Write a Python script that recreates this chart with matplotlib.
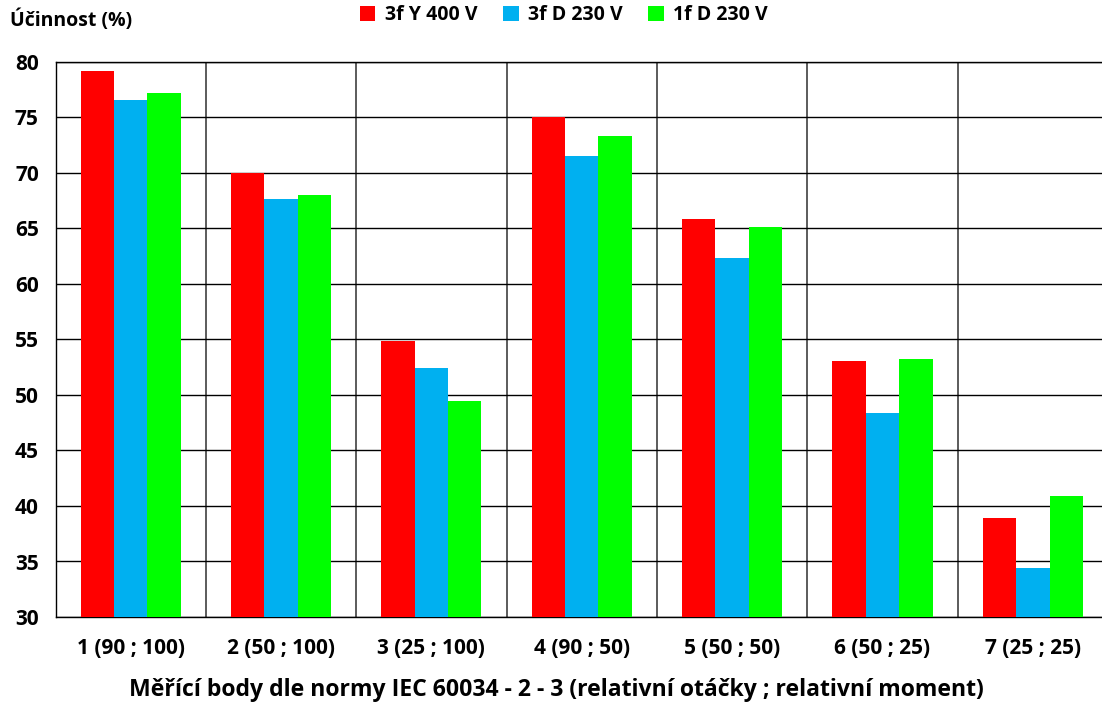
import numpy as np
import matplotlib.pyplot as plt

plt.rcParams['font.family'] = ['Open Sans', 'DejaVu Sans']
plt.rcParams['font.weight'] = 'bold'

# Měřicí body a účinnosti
categories = ['1 (90 ; 100)', '2 (50 ; 100)', '3 (25 ; 100)', '4 (90 ; 50)',
              '5 (50 ; 50)', '6 (50 ; 25)', '7 (25 ; 25)']
y400 = [79.2, 70.0, 54.9, 75.0, 65.9, 53.1, 38.9]
d230_3f = [76.6, 67.7, 52.4, 71.5, 62.3, 48.4, 34.4]
d230_1f = [77.2, 68.0, 49.5, 73.3, 65.1, 53.2, 40.9]
series_names = ['3f Y 400 V', '3f D 230 V', '1f D 230 V']
colors = ['#ff0000', '#00b0f0', '#00ff00']

W, H = 1102, 708
fig = plt.figure(figsize=(W / 100, H / 100), dpi=100)
ax = fig.add_axes([55.5 / W, (H - 617) / H, (1108 - 55.5) / W, (617 - 62) / H])

x = np.arange(len(categories))
bw = 0.222
for i, (vals, c, name) in enumerate(zip([y400, d230_3f, d230_1f], colors, series_names)):
    ax.bar(x + (i - 1) * bw, vals, bw, color=c, label=name, zorder=3)

ax.set_xlim(-0.5, len(categories) - 0.5)
ax.set_ylim(30, 80)
ax.set_yticks(np.arange(30, 81, 5))
ax.set_xticks(x)
ax.set_xticklabels(categories)
ax.tick_params(axis='both', length=0, labelsize=15)
ax.tick_params(axis='x', pad=15)
ax.tick_params(axis='y', pad=12)
ax.grid(axis='y', color='black', linewidth=1, zorder=1)
for b in np.arange(0.5, len(categories) - 0.5, 1):
    ax.axvline(b, color='#404040', linewidth=1.2, zorder=1)
for s in ax.spines.values():
    s.set_color('black')
    s.set_linewidth(1)

fig.text(10 / W, 1 - 20 / H, 'Účinnost (%)', fontsize=14, fontweight='bold', va='center')
fig.text(556 / W, 1 - 690 / H, 'Měřící body dle normy IEC 60034 - 2 - 3 (relativní otáčky ; relativní moment)',
         fontsize=16.6, fontweight='bold', ha='center', va='center')

fig.legend(loc='center', bbox_to_anchor=(564 / W, 1 - 15 / H), ncol=3, frameon=False,
           fontsize=14, handlelength=0.8, handleheight=0.8, handletextpad=0.5,
           columnspacing=1.3)

fig.savefig('out.png', dpi=100)
